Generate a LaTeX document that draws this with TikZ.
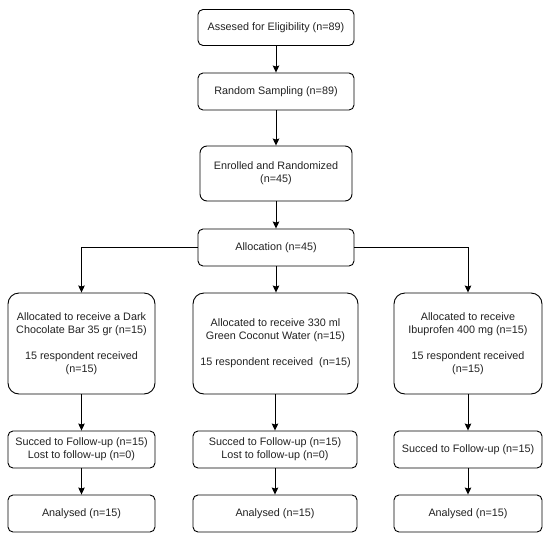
\documentclass[tikz,border=0pt]{standalone}
\usepackage{fontspec}
\setmainfont{Liberation Sans}
\usetikzlibrary{arrows.meta}
\definecolor{txt}{HTML}{222222}
\tikzset{
  box/.style={draw=black, line width=0.9pt, fill=white, align=center, inner sep=0pt,
    text=txt, font=\fontsize{10.8}{13}\selectfont},
  bigbox/.style={box, rounded corners=11pt},
  smallbox/.style={box, rounded corners=5pt},
  conn/.style={draw=black, line width=0.9pt, -{Stealth[length=7pt,width=6.5pt,inset=1pt]}}
}
\begin{document}
\begin{tikzpicture}[x=1pt,y=-1pt]
\useasboundingbox (0,0) rectangle (550,539);
\node[smallbox, minimum width=156pt, minimum height=36pt] (b1) at (276,27.5) {Assesed for Eligibility (n=89)};
\node[smallbox, minimum width=156pt, minimum height=37pt] (b2) at (276,91.5) {Random Sampling (n=89)};
\node[smallbox, rounded corners=7pt, minimum width=152pt, minimum height=55pt] (b3) at (276,173.5) {Enrolled and Randomized\\(n=45)};
\node[smallbox, minimum width=156pt, minimum height=37pt] (b4) at (276,247.5) {Allocation (n=45)};

\node[bigbox, minimum width=147pt, minimum height=101pt] (lb) at (81.5,343.5) {Allocated to receive a Dark\\Chocolate Bar 35 gr (n=15)\\[13pt]15 respondent received\\(n=15)};
\node[bigbox, minimum width=165pt, minimum height=101pt] (mb) at (275.5,343.5) {Allocated to receive 330 ml\\Green Coconut Water (n=15)\\[13pt]15 respondent received~ (n=15)};
\node[bigbox, minimum width=148pt, minimum height=101pt] (rb) at (468,343.5) {Allocated to receive\\Ibuprofen 400 mg (n=15)\\[13pt]15 respondent received\\(n=15)};

\node[smallbox, minimum width=147pt, minimum height=37pt] (ls) at (81.5,449.5) {Succed to Follow-up (n=15)\\Lost to follow-up (n=0)};
\node[smallbox, minimum width=164pt, minimum height=37pt] (ms) at (275,449.5) {Succed to Follow-up (n=15)\\Lost to follow-up (n=0)};
\node[smallbox, minimum width=148pt, minimum height=37pt] (rs) at (468,449.5) {Succed to Follow-up (n=15)};

\node[smallbox, minimum width=147pt, minimum height=37pt] (la) at (81.5,513.5) {Analysed (n=15)};
\node[smallbox, minimum width=164pt, minimum height=37pt] (ma) at (275,513.5) {Analysed (n=15)};
\node[smallbox, minimum width=148pt, minimum height=37pt] (ra) at (468,513.5) {Analysed (n=15)};

\draw[conn] (b1) -- (b2);
\draw[conn] (b2) -- (b3);
\draw[conn] (b3) -- (b4);
\draw[conn] (b4.west) -| (lb.north);
\draw[conn] (b4.east) -| (rb.north);
\draw[conn] (b4.south) -- (b4.south |- mb.north);
\draw[conn] (lb) -- (ls);
\draw[conn] (mb.south -| ms.north) -- (ms);
\draw[conn] (rb) -- (rs);
\draw[conn] (ls) -- (la);
\draw[conn] (ms) -- (ma);
\draw[conn] (rs) -- (ra);
\end{tikzpicture}
\end{document}
